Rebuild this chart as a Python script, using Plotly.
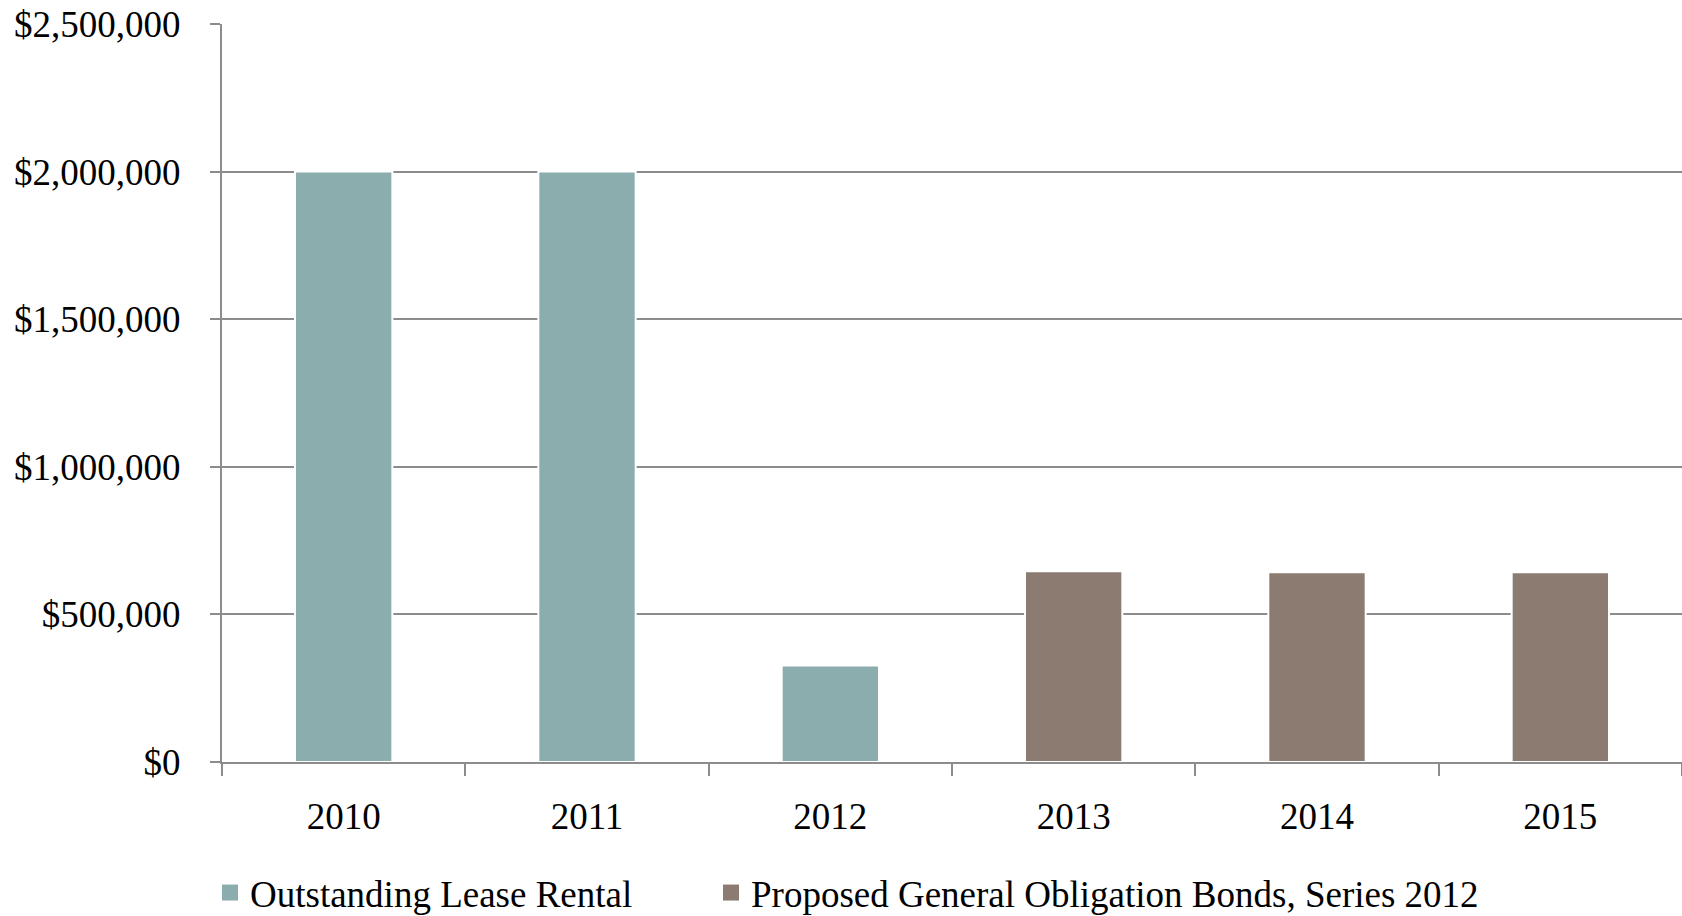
import plotly.graph_objects as go

years = ["2010", "2011", "2012", "2013", "2014", "2015"]
lease_rental = [2000000, 2000000, 327000, None, None, None]
go_bonds = [None, None, None, 646000, 643000, 643000]
series_names = ["Outstanding Lease Rental", "Proposed General Obligation Bonds, Series 2012"]
y_ticks = [0, 500000, 1000000, 1500000, 2000000, 2500000]
y_tick_labels = ["$0", "$500,000", "$1,000,000", "$1,500,000", "$2,000,000", "$2,500,000"]

FONT = "Liberation Serif, Times New Roman, serif"
TEAL = "#8cadad"
BROWN = "#8b7b70"
GRID = "#8c8c8c"

fig = go.Figure()
fig.add_trace(go.Bar(x=years, y=lease_rental, name=series_names[0], width=0.40,
                     showlegend=False,
                     marker=dict(color=TEAL, line=dict(color="white", width=2))))
fig.add_trace(go.Bar(x=years, y=go_bonds, name=series_names[1], width=0.40,
                     showlegend=False,
                     marker=dict(color=BROWN, line=dict(color="white", width=2))))
# legend entries (square swatches)
fig.add_trace(go.Scatter(x=[None], y=[None], mode="markers", name=series_names[0],
                         marker=dict(symbol="square", size=16, color=TEAL),
                         legend="legend"))
fig.add_trace(go.Scatter(x=[None], y=[None], mode="markers", name=series_names[1],
                         marker=dict(symbol="square", size=16, color=BROWN),
                         legend="legend2"))

legend_common = dict(orientation="h", xref="container", yref="container",
                     xanchor="left", yanchor="middle",
                     font=dict(family=FONT, size=37, color="black"),
                     bgcolor="rgba(0,0,0,0)", itemclick=False, itemdoubleclick=False)

fig.update_layout(
    width=1682, height=916,
    margin=dict(l=222, r=0, t=24, b=154),
    barmode="overlay",
    plot_bgcolor="white", paper_bgcolor="white",
    font=dict(family=FONT, size=37, color="black"),
    showlegend=True,
    legend=dict(x=210/1682, y=(916-893)/916, **legend_common),
    legend2=dict(x=711/1682, y=(916-893)/916, **legend_common),
)
fig.update_xaxes(
    type="category", showline=True, linecolor=GRID, linewidth=2,
    ticks="outside", tickson="boundaries", ticklen=12, tickwidth=1.5, tickcolor=GRID,
    showgrid=False, ticklabelstandoff=21, tickfont=dict(size=37),
)
fig.update_yaxes(
    range=[0, 2500000], tickvals=y_ticks, ticktext=y_tick_labels,
    showline=True, linecolor=GRID, linewidth=2,
    ticks="outside", ticklen=10, tickwidth=1.5, tickcolor=GRID,
    showgrid=True, gridcolor=GRID, gridwidth=1.5, zeroline=False,
    ticklabelstandoff=22, tickfont=dict(size=37),
)

fig.write_html("out.html")
